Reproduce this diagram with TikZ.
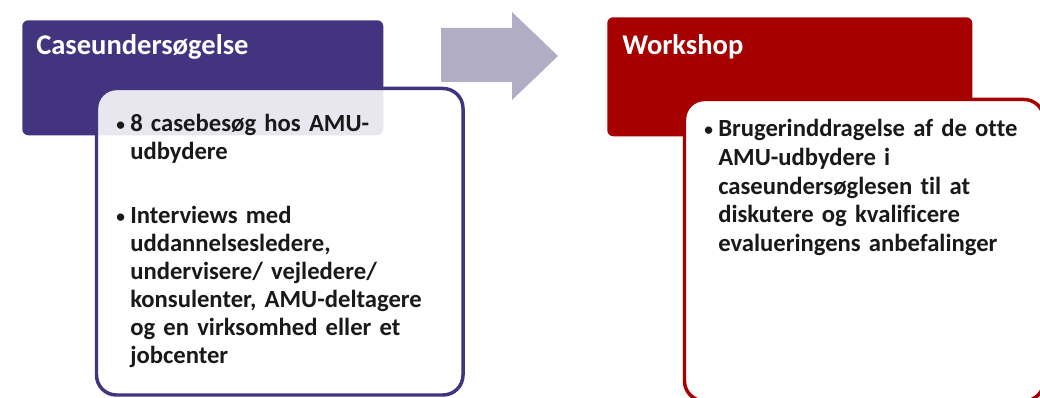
\documentclass[tikz,border=0pt]{standalone}
\usepackage{fontspec}
\setmainfont{Carlito}[Ligatures=NoCommon, WordSpace=0.8]
\usepackage{tikz}

\definecolor{casepurple}{RGB}{67,52,128}
\definecolor{wsred}{RGB}{166,0,0}
\definecolor{arrowgray}{RGB}{177,173,196}
\newcommand{\blt}{\llap{\raisebox{1.3pt}{\fontsize{13}{13}\selectfont\textbullet}\hspace{4pt}}}

\begin{document}
\begin{tikzpicture}[x=0.75pt, y=-0.75pt]
\tikzset{hdrbox/.style={anchor=north west, rounded corners=4.5pt, inner sep=0pt, minimum width=#1},
  bodybox/.style={anchor=north west, line width=2.6pt, rounded corners=15pt, inner sep=0pt, fill=white},
  hdrtext/.style={anchor=base west, inner sep=0pt, text=white, font=\fontsize{21.4}{25}\selectfont\bfseries},
  itemtext/.style={anchor=base west, inner sep=0pt, text width=330pt, align=left, text=black!90, font=\fontsize{18.5}{21}\selectfont\bfseries}}
\useasboundingbox (0,0) rectangle (1040,398);
\clip (0,0) rectangle (1040,398);
% left column
\node[hdrbox=270.75pt, fill=casepurple, minimum height=86.25pt] (caseHdr) at (22,20) {};
\node[hdrtext] (caseTitle) at (36,55) {Caseundersøgelse};
\node[bodybox, draw=casepurple, fill opacity=0.88, minimum width=274.9pt, minimum height=229.9pt] (caseBody) at (94.75,86.75) {};
\node[itemtext] (caseItemA) at (130,132) {\blt 8 casebesøg hos AMU-\\udbydere};
\node[itemtext] (caseItemB) at (130,224) {\blt Interviews med\\uddannelsesledere,\\undervisere/ vejledere/\\konsulenter, AMU-deltagere\\og en virksomhed eller et\\jobcenter};
% arrow
\fill[arrowgray] (441,28) -- (512,28) -- (512,12) -- (558,56) -- (512,100) -- (512,82) -- (441,82) -- cycle;
% right column
\node[hdrbox=273.75pt, fill=wsred, minimum height=89.25pt] (wsHdr) at (607,17) {};
\node[hdrtext] (wsTitle) at (622,55) {Workshop};
\node[bodybox, draw=wsred, minimum width=269.6pt, minimum height=226.1pt] (wsBody) at (682.75,97.75) {};
\node[itemtext, font=\fontsize{18.5}{21.4}\selectfont\bfseries] (wsItem) at (718,137) {\blt Brugerinddragelse af de otte\\AMU-udbydere i\\caseundersøglesen til at\\diskutere og kvalificere\\evalueringens anbefalinger};
\end{tikzpicture}
\end{document}
